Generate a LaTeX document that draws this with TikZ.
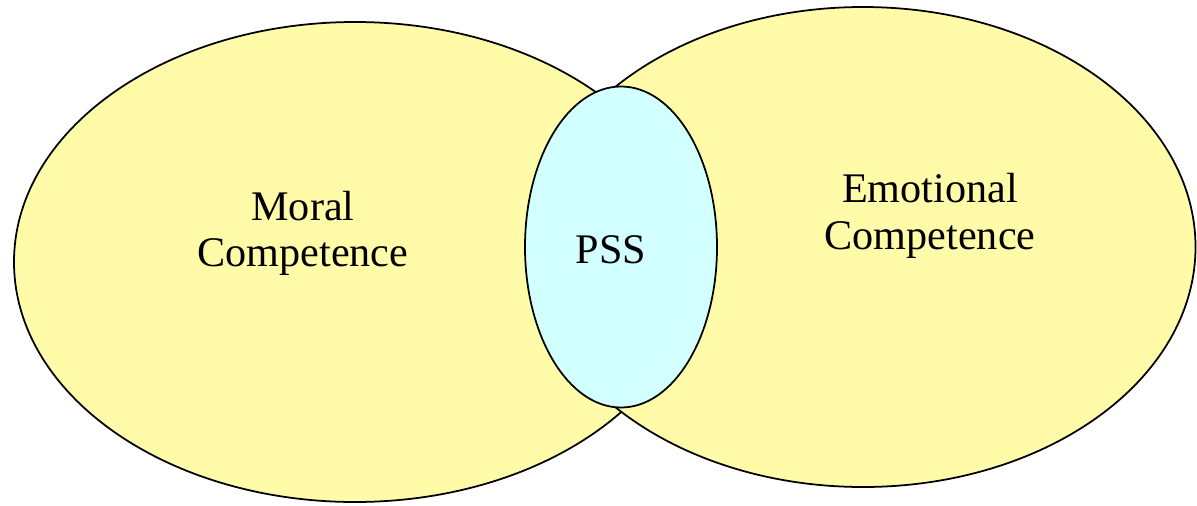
\documentclass[tikz,border=0pt]{standalone}
\usepackage{fontspec}
\setmainfont{Liberation Serif}
\usetikzlibrary{shapes.geometric, positioning}
\definecolor{setyellow}{RGB}{255,251,168}
\definecolor{pssblue}{RGB}{210,255,255}

\begin{document}
\begin{tikzpicture}
 	  [competence/.style={ellipse,draw=black,fill=setyellow,line width=1pt,inner sep=0pt,
 	  	minimum width=13.64cm,minimum height=9.6cm},
 	overlap/.style={ellipse,draw=black,fill=pssblue,line width=1pt,inner sep=0pt,
 		minimum width=3.84cm,minimum height=6.42cm},
 	label/.style={align=center,font=\fontsize{24}{26.4}\selectfont}]
 	
 	\useasboundingbox (0,0) rectangle (23.94,-10.1);
 	
 	\node[competence](moral) at (7.10,-5.24) {}; 
 	\node[competence, minimum width=13.3cm](emotional) at (17.26,-4.94) {}; 
 	\node[overlap](pss) at (12.42,-4.94) {}; 
 	
 	\node[label](moraltext) at (6.06,-4.67) {Moral\\Competence}; 
 	\node[label](emotionaltext) at (18.60,-4.32) {Emotional\\Competence}; 
 	\node[label](psstext) at (12.22,-5.0) {PSS}; 
 	
 \end{tikzpicture}
\end{document}
